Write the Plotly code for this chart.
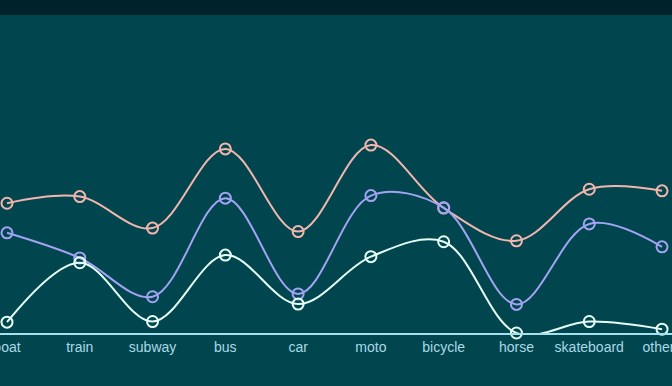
import plotly.graph_objects as go

categories = ["boat", "train", "subway", "bus", "car", "moto", "bicycle", "horse", "skateboard", "others"]
series_a = [40.8, 42.9, 33.0, 57.9, 31.9, 59.1, 39.3, 29.0, 45.2, 44.7]
series_b = [31.5, 23.6, 11.4, 42.4, 12.3, 43.2, 39.4, 9.0, 34.3, 27.1]
series_c = [3.4, 22.1, 3.6, 24.5, 9.1, 24.0, 28.7, 0.0, 3.6, 1.2]

series = [
    ("A", series_a, "#f2b6ae"),
    ("B", series_b, "#a3a3f3"),
    ("C", series_c, "#e6fff6"),
]

fig = go.Figure()
for name, vals, col in series:
    fig.add_trace(go.Scatter(
        x=categories, y=vals, name=name, mode="lines+markers",
        line=dict(color=col, width=2, shape="spline", smoothing=1.0),
        marker=dict(symbol="circle-open", size=11, color=col, line=dict(width=2, color=col)),
        cliponaxis=False,
    ))

H = 386
T, B = 15, 53
ph = H - T - B
fig.update_layout(
    width=672, height=386,
    margin=dict(l=0, r=0, t=T, b=B, autoexpand=False),
    paper_bgcolor="#01464e",
    plot_bgcolor="#01464e",
    showlegend=False,
    font=dict(family="Liberation Sans, Arial, sans-serif", size=14, color="#a9d9e6"),
    xaxis=dict(
        range=[-0.096, 9.137], showgrid=False, zeroline=False, automargin=False,
        showline=True, linecolor="#a6e0ea", linewidth=1.5, ticks="",
        tickfont=dict(size=14, color="#a9d9e6"),
    ),
    yaxis=dict(range=[0, 100], showgrid=False, zeroline=False, showticklabels=False,
               showline=False, automargin=False),
    shapes=[dict(type="rect", xref="paper", yref="paper", x0=0, x1=1, y0=1, y1=1 + (T + 2) / ph,
                 fillcolor="#00222a", line=dict(width=0), layer="below")],
)

fig.write_html("out.html", config={"displayModeBar": False},
               post_script="document.body.style.margin='0';document.body.style.background='#01464e';")
